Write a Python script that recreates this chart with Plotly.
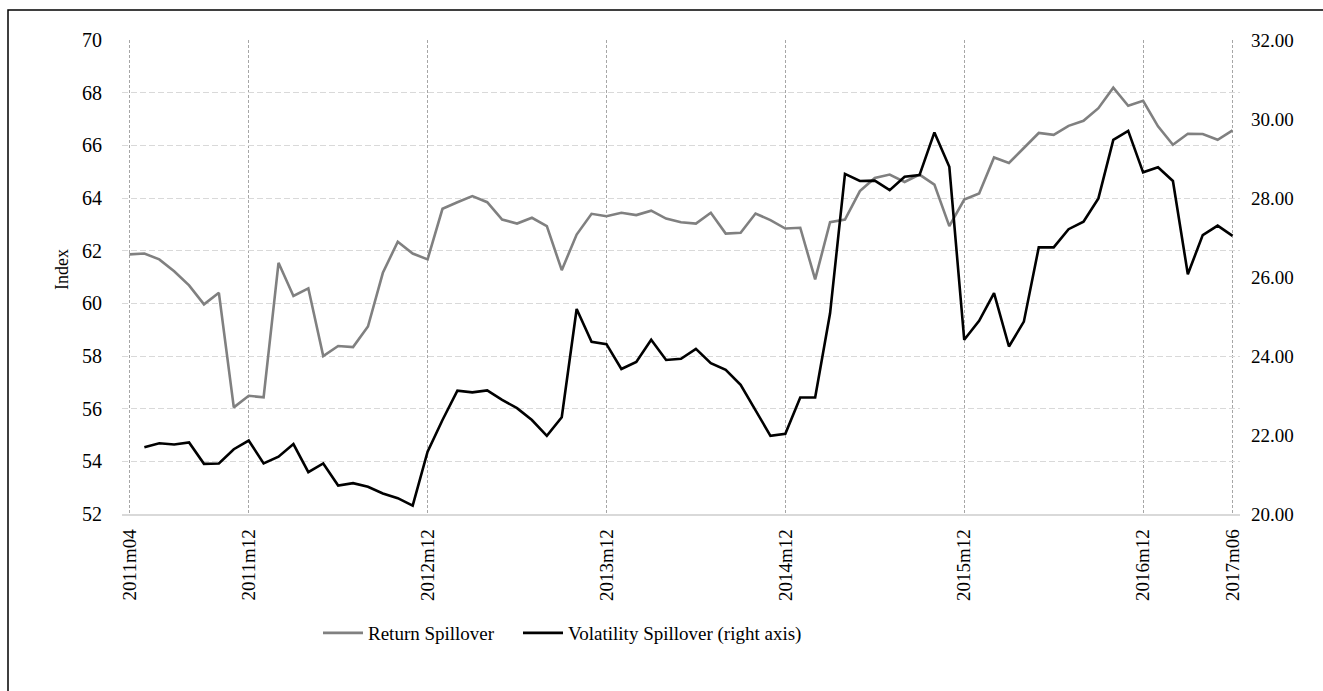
import plotly.graph_objects as go

# ---- data ----
months = []
for y in range(2011, 2018):
    for m in range(1, 13):
        if (y == 2011 and m < 4) or (y == 2017 and m > 6):
            continue
        months.append(f"{y}m{m:02d}")

return_spillover = [
    61.86, 61.89, 61.67, 61.22, 60.68, 59.96, 60.40, 56.05, 56.49, 56.43,
    61.54, 60.28, 60.57, 58.00, 58.38, 58.34, 59.12, 61.16, 62.34, 61.89,
    61.67, 63.59, 63.84, 64.07, 63.84, 63.18, 63.03, 63.25, 62.93, 61.26,
    62.61, 63.40, 63.31, 63.44, 63.35, 63.52, 63.22, 63.08, 63.03, 63.44,
    62.65, 62.68, 63.41, 63.16, 62.84, 62.87, 60.91, 63.08, 63.18, 64.26,
    64.76, 64.89, 64.61, 64.89, 64.51, 62.93, 63.94, 64.17, 65.54, 65.33,
    65.90, 66.47, 66.40, 66.74, 66.93, 67.41, 68.19, 67.50, 67.69, 66.72,
    66.02, 66.44, 66.43, 66.21, 66.57,
]

volatility_spillover = [
    None, 21.69, 21.79, 21.76, 21.81, 21.27, 21.28, 21.64, 21.86, 21.28,
    21.45, 21.77, 21.06, 21.28, 20.72, 20.78, 20.69, 20.52, 20.40, 20.21,
    21.58, 22.38, 23.12, 23.08, 23.13, 22.89, 22.68, 22.38, 21.98, 22.45,
    25.19, 24.36, 24.30, 23.67, 23.85, 24.41, 23.90, 23.93, 24.18, 23.82,
    23.65, 23.27, 22.63, 21.98, 22.03, 22.95, 22.95, 25.08, 28.61, 28.43,
    28.44, 28.20, 28.54, 28.58, 29.66, 28.79, 24.41, 24.89, 25.59, 24.24,
    24.87, 26.75, 26.75, 27.21, 27.40, 27.99, 29.47, 29.70, 28.65, 28.78,
    28.43, 26.07, 27.06, 27.30, 27.04,
]

tick_labels = ["2011m04", "2011m12", "2012m12", "2013m12", "2014m12",
               "2015m12", "2016m12", "2017m06"]

x_idx = list(range(len(months)))
tick_idx = [months.index(t) for t in tick_labels]

FONT = "Liberation Serif, Times New Roman, serif"

fig = go.Figure()
fig.add_trace(go.Scatter(
    x=x_idx, y=return_spillover, name="Return Spillover", mode="lines",
    line=dict(color="#808080", width=2.6), yaxis="y", legend="legend",
))
fig.add_trace(go.Scatter(
    x=x_idx, y=volatility_spillover, name="Volatility Spillover (right axis)",
    mode="lines", line=dict(color="#000000", width=2.6), yaxis="y2",
    legend="legend2",
))

W, H = 1323, 691
L, R, T, B = 122, 83, 40, 177
pw, ph = W - L - R, H - T - B


def px_x(p):
    return (p - L) / pw


def px_y(p):
    return (H - B - p) / ph


legend_common = dict(orientation="h", xanchor="left", y=px_y(633),
                     yanchor="middle", font=dict(family=FONT, size=19),
                     itemwidth=40, bgcolor="rgba(0,0,0,0)")

fig.update_layout(
    width=W, height=H,
    margin=dict(l=L, r=R, t=T, b=B, autoexpand=False),
    paper_bgcolor="white", plot_bgcolor="white",
    font=dict(family=FONT, size=20, color="#000000"),
    showlegend=True,
    legend=dict(x=px_x(318), **legend_common),
    legend2=dict(x=px_x(518), **legend_common),
    xaxis=dict(
        range=[-0.5, len(months) - 0.5],
        tickmode="array", tickvals=tick_idx, ticktext=tick_labels,
        tickangle=-90, ticks="", showgrid=True, gridcolor="#a6a6a6",
        griddash="3px,2px", gridwidth=1,
        showline=True, linecolor="#d9d9d9", linewidth=1.5,
        zeroline=False, ticklabelstandoff=6,
        tickfont=dict(family=FONT, size=19),
    ),
    yaxis=dict(
        range=[52, 70], dtick=2, tick0=52, showgrid=True, gridcolor="#d9d9d9",
        griddash="6px,3px", gridwidth=1.3, zeroline=False, ticks="",
        ticklabelstandoff=19, tickfont=dict(family=FONT, size=20),
    ),
    yaxis2=dict(
        range=[20, 32], dtick=2, tick0=20, overlaying="y", side="right",
        showgrid=False, zeroline=False, ticks="", tickformat=".2f",
        ticklabelstandoff=10, tickfont=dict(family=FONT, size=19),
    ),
)

fig.add_annotation(
    text="Index", x=px_x(62), y=px_y(270), xref="paper", yref="paper",
    textangle=-90, showarrow=False, font=dict(family=FONT, size=18),
    xanchor="center", yanchor="middle",
)

# outer chart frame
fig.add_shape(
    type="rect", xref="paper", yref="paper",
    x0=px_x(8), x1=px_x(1340), y0=px_y(710), y1=px_y(10),
    line=dict(color="#000000", width=1.5), fillcolor="rgba(0,0,0,0)",
    layer="below",
)

fig.write_html(
    "out.html",
    config={"displayModeBar": False},
    post_script="document.body.style.margin='0';document.body.style.overflow='hidden';",
)
